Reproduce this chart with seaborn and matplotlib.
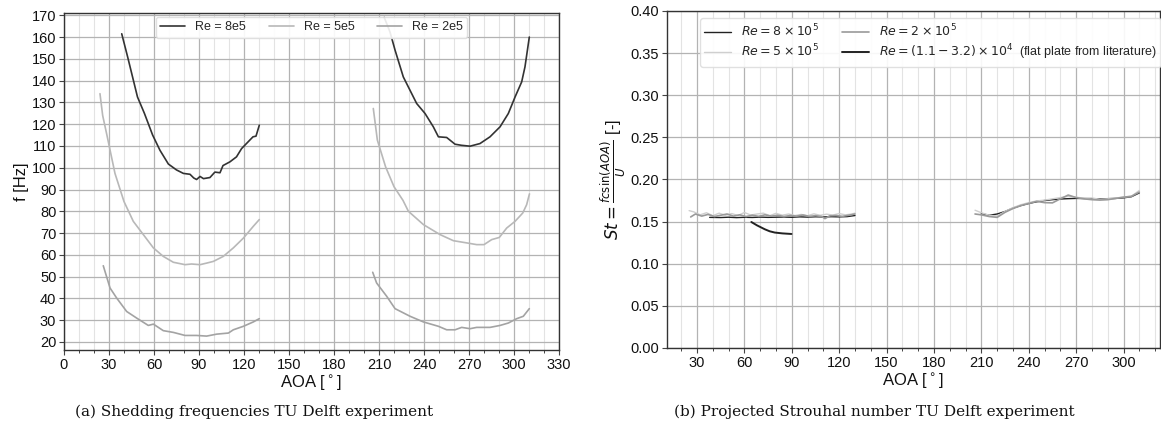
import numpy as np
import pandas as pd
import matplotlib
matplotlib.use("Agg")
import matplotlib.pyplot as plt
from matplotlib.ticker import MultipleLocator
import seaborn as sns

# ---- data (AOA in degrees) ----
# shedding frequency f [Hz], two AOA ranges per Reynolds number
aoa_8e5_a = [38.5, 42.4, 49.0, 53.6, 59.1, 64.0, 69.6, 75.0, 79.6, 84.0, 86.5, 88.4, 90.7, 93.0, 97.3,
             100.6, 104.0, 106.0, 110.6, 115.0, 118.4, 122.9, 126.0, 128.0, 130.2]
f_8e5_a = [161.5, 151.0, 132.5, 125.0, 115.0, 108.0, 101.7, 99.0, 97.4, 97.0, 95.3, 94.6, 96.0, 95.0, 95.5,
           98.0, 97.7, 101.0, 102.7, 105.0, 108.8, 112.0, 114.2, 114.5, 119.5]
aoa_8e5_b = [213.5, 217.3, 220.7, 226.2, 235.1, 240.7, 246.2, 249.6, 255.1, 260.7, 265.0, 270.7, 277.3,
             284.0, 290.7, 296.2, 300.7, 305.1, 307.3, 310.2]
f_8e5_b = [169.0, 162.4, 154.0, 141.7, 129.5, 124.9, 118.8, 114.2, 113.9, 110.8, 110.3, 109.9, 111.1,
           114.2, 118.8, 124.9, 132.5, 139.4, 146.3, 160.0]

aoa_5e5_a = [24.0, 25.8, 28.4, 34.0, 40.0, 46.2, 52.9, 59.6, 66.2, 72.9, 80.7, 85.0, 90.7, 95.0, 99.6,
             106.2, 112.9, 119.6, 126.2, 130.2]
f_5e5_a = [134.0, 124.0, 115.7, 97.4, 84.5, 75.4, 69.3, 63.2, 59.3, 56.6, 55.5, 55.8, 55.5, 56.2, 57.0,
           59.3, 63.2, 67.7, 73.1, 76.2]
aoa_5e5_b = [206.2, 208.9, 214.4, 220.0, 226.0, 229.6, 239.6, 250.7, 259.6, 268.4, 275.1, 280.0, 285.1,
             290.2, 295.1, 300.7, 305.8, 308.4, 310.3]
f_5e5_b = [127.2, 112.7, 100.4, 91.3, 85.0, 80.0, 73.9, 69.3, 66.5, 65.5, 64.7, 64.7, 67.0,
           68.0, 72.3, 75.4, 79.2, 83.0, 88.0]

aoa_2e5_a = [26.2, 30.7, 35.1, 41.8, 48.4, 56.2, 59.6, 66.2, 72.9, 80.7, 88.4, 95.1, 101.8, 109.6,
             112.9, 119.6, 126.2, 130.2]
f_2e5_a = [55.0, 44.8, 40.2, 34.0, 31.0, 27.6, 28.2, 25.2, 24.4, 23.0, 23.0, 22.7, 23.6, 24.1,
           25.6, 27.2, 29.2, 30.7]
aoa_2e5_b = [205.8, 208.4, 215.1, 220.7, 230.7, 239.6, 249.6, 255.1, 260.7, 265.1, 270.7, 275.1, 284.0,
             290.7, 296.2, 301.8, 306.2, 310.2]
f_2e5_b = [52.0, 47.1, 41.0, 35.3, 31.8, 29.2, 27.2, 25.6, 25.6, 26.7, 26.1, 26.7, 26.7,
           27.6, 28.7, 30.7, 31.8, 35.3]

# projected Strouhal number St [-]
aoa_st_8e5_a = [38, 45, 50, 55, 60, 65, 70, 75, 80, 85, 90, 95, 100, 105, 110, 115, 120, 125, 130]
st_8e5_a = [0.1550, 0.1548, 0.1552, 0.1547, 0.1551, 0.1549, 0.1553, 0.1550, 0.1552, 0.1554, 0.1551,
            0.1556, 0.1553, 0.1557, 0.1555, 0.1558, 0.1556, 0.1559, 0.1572]
aoa_st_5e5_a = [25, 28, 32, 36, 40, 44, 48, 52, 56, 60, 64, 68, 72, 76, 80, 84, 88, 92, 96, 100,
                104, 108, 112, 116, 120, 124, 128, 130]
st_5e5_a = [0.1630, 0.1615, 0.1580, 0.1605, 0.1570, 0.1600, 0.1575, 0.1595, 0.1572, 0.1608, 0.1578,
            0.1590, 0.1600, 0.1570, 0.1598, 0.1576, 0.1590, 0.1572, 0.1585, 0.1570, 0.1592, 0.1575,
            0.1588, 0.1578, 0.1595, 0.1580, 0.1590, 0.1600]
aoa_st_2e5_a = [26, 29, 33, 37, 41, 45, 49, 53, 57, 61, 65, 69, 73, 77, 81, 85, 89, 93, 97, 101,
                105, 109, 111, 114, 118, 122, 126, 130]
st_2e5_a = [0.1555, 0.1590, 0.1565, 0.1585, 0.1560, 0.1575, 0.1590, 0.1565, 0.1580, 0.1560, 0.1575,
            0.1562, 0.1580, 0.1565, 0.1575, 0.1560, 0.1572, 0.1565, 0.1578, 0.1562, 0.1570, 0.1560,
            0.1535, 0.1568, 0.1572, 0.1562, 0.1575, 0.1590]

aoa_st_8e5_b = [210, 215, 220, 225, 230, 235, 240, 245, 250, 255, 260, 265, 270, 275, 280, 285, 290,
                295, 300, 305, 310]
st_8e5_b = [0.1595, 0.1575, 0.1590, 0.1620, 0.1660, 0.1690, 0.1715, 0.1735, 0.1750, 0.1760, 0.1768,
            0.1772, 0.1775, 0.1774, 0.1772, 0.1770, 0.1772, 0.1775, 0.1782, 0.1795, 0.1840]
aoa_st_5e5_b = [206, 210, 215, 220, 225, 230, 235, 240, 245, 250, 255, 260, 265, 270, 275, 280, 285,
                290, 295, 300, 305, 310]
st_5e5_b = [0.1635, 0.1605, 0.1575, 0.1565, 0.1620, 0.1665, 0.1700, 0.1725, 0.1745, 0.1755, 0.1770,
            0.1785, 0.1800, 0.1790, 0.1775, 0.1780, 0.1765, 0.1770, 0.1780, 0.1790, 0.1800, 0.1870]
aoa_st_2e5_b = [206, 210, 215, 220, 225, 230, 235, 240, 245, 250, 255, 260, 265, 270, 275, 280, 285,
                290, 295, 300, 305, 310]
st_2e5_b = [0.1590, 0.1580, 0.1560, 0.1550, 0.1610, 0.1655, 0.1690, 0.1715, 0.1740, 0.1725, 0.1722,
            0.1770, 0.1815, 0.1785, 0.1770, 0.1760, 0.1755, 0.1760, 0.1775, 0.1790, 0.1800, 0.1850]

# flat plate from literature
aoa_lit = [64.4, 68.0, 72.9, 76.0, 79.2, 84.0, 89.8]
st_lit = [0.1495, 0.1455, 0.1409, 0.1385, 0.1370, 0.1360, 0.1353]

# ---- style ----
sns.set_theme(style="whitegrid")
plt.rcParams['font.family'] = ['Liberation Sans', 'DejaVu Sans']
plt.rcParams['mathtext.fontset'] = 'dejavusans'
plt.rcParams['axes.edgecolor'] = '#333333'
plt.rcParams['axes.linewidth'] = 1.0

fig = plt.figure(figsize=(11.61, 4.37), dpi=100)
ax1 = fig.add_axes([0.0551, 0.199, 0.4264, 0.771])
ax2 = fig.add_axes([0.5745, 0.2037, 0.4245, 0.7713])


def style_grid(ax):
    ax.xaxis.set_minor_locator(MultipleLocator(10))
    ax.grid(True, which='major', color='#b3b3b3', linewidth=0.9)
    ax.grid(True, which='minor', axis='x', color='#e3e3e3', linewidth=0.8)
    ax.tick_params(axis='x', which='minor', bottom=True, length=2.5, width=0.7, color='#444444')
    ax.tick_params(axis='both', which='major', bottom=True, left=True, length=3.5, width=0.8,
                   color='#444444', labelsize=10.5, pad=2, labelcolor='#111111')
    for s in ax.spines.values():
        s.set_color('#333333')
        s.set_linewidth(1.0)


# ---- (a) shedding frequency ----
left_series = [
    ("Re = 8e5", '#333333', [(aoa_8e5_a, f_8e5_a), (aoa_8e5_b, f_8e5_b)]),
    ("Re = 5e5", '#b8b8b8', [(aoa_5e5_a, f_5e5_a), (aoa_5e5_b, f_5e5_b)]),
    ("Re = 2e5", '#a3a3a3', [(aoa_2e5_a, f_2e5_a), (aoa_2e5_b, f_2e5_b)]),
]
for label, color, segs in left_series:
    for i, (x, y) in enumerate(segs):
        sns.lineplot(x=x, y=y, ax=ax1, color=color, linewidth=1.2, sort=False,
                     label=label if i == 0 else None, legend=False)

ax1.set_xlim(0, 330)
ax1.set_ylim(16.3, 171)
ax1.set_xticks(np.arange(0, 331, 30))
ax1.set_yticks(np.arange(20, 171, 10))
style_grid(ax1)
ax1.set_xlabel('AOA [$^\\circ$]', fontsize=12, labelpad=1, color='#111111')
ax1.set_ylabel('f [Hz]', fontsize=12, labelpad=2, color='#111111')
h, l = ax1.get_legend_handles_labels()
ax1.legend(h, l, loc='upper center', ncol=3, fontsize=9, frameon=True, framealpha=0.9,
           edgecolor='#dddddd', borderaxespad=0.3, handlelength=2.0, columnspacing=1.8,
           handletextpad=0.8, borderpad=0.35, bbox_to_anchor=(0.5, 1.0))

# ---- (b) projected Strouhal number ----
right_series = [
    (r'$Re = 8 \times 10^5$', '#222222', 1.0, [(aoa_st_8e5_a, st_8e5_a), (aoa_st_8e5_b, st_8e5_b)]),
    (r'$Re = 5 \times 10^5$', '#cfcfcf', 1.0, [(aoa_st_5e5_a, st_5e5_a), (aoa_st_5e5_b, st_5e5_b)]),
    (r'$Re = 2 \times 10^5$', '#9a9a9a', 1.2, [(aoa_st_2e5_a, st_2e5_a), (aoa_st_2e5_b, st_2e5_b)]),
    (r'$Re = (1.1-3.2) \times 10^4$  (flat plate from literature)', '#222222', 1.4, [(aoa_lit, st_lit)]),
]
for label, color, lw, segs in right_series:
    for i, (x, y) in enumerate(segs):
        sns.lineplot(x=x, y=y, ax=ax2, color=color, linewidth=lw, sort=False,
                     label=label if i == 0 else None, legend=False)

ax2.set_xlim(11, 323)
ax2.set_ylim(0, 0.40)
ax2.set_xticks(np.arange(30, 301, 30))
ax2.set_yticks(np.arange(0, 0.401, 0.05))
ax2.yaxis.set_major_formatter(matplotlib.ticker.FormatStrFormatter('%.2f'))
style_grid(ax2)
ax2.set_xlabel('AOA [$^\\circ$]', fontsize=12, labelpad=1, color='#111111')
ax2.set_ylabel(r'$St = \frac{fc\sin(AOA)}{U}$ [-]', fontsize=12, labelpad=2, color='#111111')
h, l = ax2.get_legend_handles_labels()
ax2.legend(h, l, loc='upper left', ncol=2, fontsize=9, frameon=True, framealpha=0.9,
           edgecolor='#dddddd', bbox_to_anchor=(0.062, 0.985), borderaxespad=0.2,
           handlelength=2.1, columnspacing=1.9, borderpad=0.35, labelspacing=0.25,
           handletextpad=0.8)

# ---- captions ----
fig.text(0.2188, 0.058, '(a) Shedding frequencies TU Delft experiment', ha='center',
         va='center', fontsize=11, family='DejaVu Serif', color='#111111')
fig.text(0.7528, 0.058, '(b) Projected Strouhal number TU Delft experiment', ha='center',
         va='center', fontsize=11, family='DejaVu Serif', color='#111111')

fig.savefig('out.png', dpi=100)
